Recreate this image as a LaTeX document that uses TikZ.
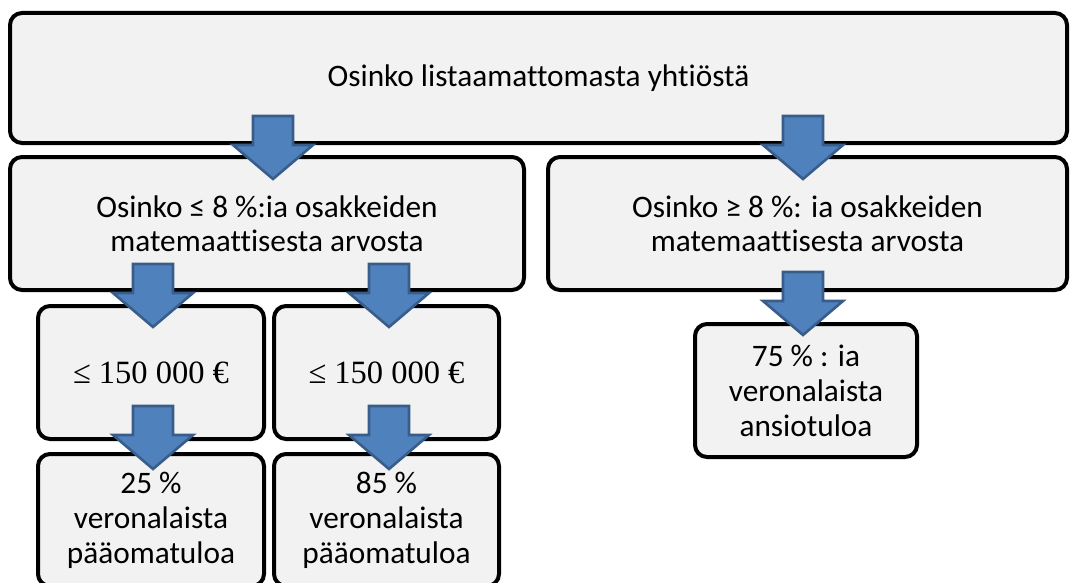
\documentclass[tikz,border=0pt]{standalone}
\usepackage{fontspec}
\setmainfont{Carlito}[Ligatures={NoCommon}]
\newfontfamily\serifnum{Liberation Serif}
\begin{document}
\begin{tikzpicture}[x=1pt,y=-1pt,
  box/.style={draw=black,line width=4pt,fill=boxfill,rounded corners=12pt,inner sep=0pt,align=center,
    font=\fontsize{31.3}{34}\selectfont},
  numbox/.style={box,font=\serifnum\fontsize{32.5}{36}\selectfont},
  tribox/.style={box,font=\fontsize{31.3}{35}\selectfont},
  arrowstyle/.style={draw=arrowborder,fill=arrowfill,line width=2.6pt,line join=miter},
  barrow/.pic={\path[arrowstyle] (-20,0) -- (20,0) -- (20,29) -- (40,29) -- (0,63) -- (-40,29) -- (-20,29) -- cycle;}
]
\definecolor{boxfill}{HTML}{F2F2F2}
\definecolor{arrowfill}{HTML}{4F81BD}
\definecolor{arrowborder}{HTML}{385D8A}
\useasboundingbox (0,0) rectangle (1070,583);
\begin{scope}
\clip (0,0) rectangle (1070,583);
% boxes
\node[box,minimum width=1057pt,minimum height=130pt] (top) at (538.5,78) {Osinko listaamattomasta yhtiöstä};
\node[box,minimum width=514pt,minimum height=133pt] (low) at (267,223.5) {Osinko ≤ 8 \%:ia osakkeiden\\matemaattisesta arvosta};
\node[box,minimum width=519pt,minimum height=133pt] (high) at (807.5,223.5) {Osinko ≥ 8 \%: ia osakkeiden\\matemaattisesta arvosta};
\node[numbox,minimum width=226pt,minimum height=133pt] (a) at (151,372.5) {≤ 150 000 €};
\node[numbox,minimum width=225pt,minimum height=133pt] (b) at (386.5,372.5) {≤ 150 000 €};
\node[tribox,minimum width=226pt,minimum height=132pt] (c) at (151,520) {25 \%\\veronalaista\\pääomatuloa};
\node[tribox,minimum width=225pt,minimum height=132pt] (d) at (386.5,520) {85 \%\\veronalaista\\pääomatuloa};
\node[tribox,minimum width=222pt,minimum height=133pt] (e) at (806,390.5) {75 \% : ia\\veronalaista\\ansiotuloa};
% block arrows
\pic at (273,116) {barrow};
\pic at (803,116) {barrow};
\pic at (153,264) {barrow};
\pic at (389,264) {barrow};
\pic at (153,406) {barrow};
\pic at (389,406) {barrow};
\pic at (803,272) {barrow};
\end{scope}
\end{tikzpicture}
\end{document}
